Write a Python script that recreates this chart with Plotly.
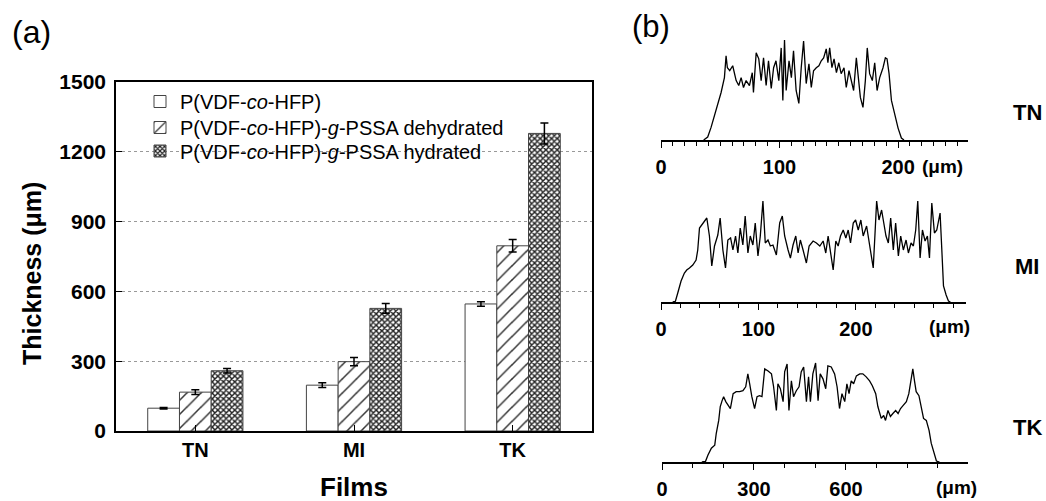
import plotly.graph_objects as go

# ---------------- Panel (a) data ----------------
films = ["TN", "MI", "TK"]
plain_vals = [98, 197, 546]
plain_err = [3, 10, 10]
dehyd_vals = [167, 298, 796]
dehyd_err = [10, 18, 27]
hyd_vals = [259, 527, 1279]
hyd_err = [10, 21, 45]
series_names = [
    "P(VDF-<i>co</i>-HFP)",
    "P(VDF-<i>co</i>-HFP)-<i>g</i>-PSSA dehydrated",
    "P(VDF-<i>co</i>-HFP)-<i>g</i>-PSSA hydrated",
]
y_ticks = [0, 300, 600, 900, 1200, 1500]

# ---------------- Panel (b) profile data (x in µm, height in arb. units) ----------------
tn_x = [36, 39.4, 42.3, 46.5, 50.7, 53.5, 54.9, 56, 58, 60.5, 63.4, 65.6, 67.6, 69.6, 71.8, 74.6, 77, 78,
        80.3, 82.5, 84.5, 86.5, 88.7, 90.7, 93, 95, 97, 99.4, 101.4, 102.8, 104.2, 105.6, 108, 110, 111.8,
        114, 116.3, 118.3, 120.3, 122.5, 124.8, 126.8, 128.7, 131, 133.2, 135.2, 137.2, 139.4, 140.8,
        142.3, 144.2, 146, 148, 150, 152, 154.4, 156.3, 158.6, 160.6, 162.5, 164.8, 166.2, 168.2, 170.4,
        172.4, 174, 176, 178.3, 180.3, 182.3, 184.5, 187.3, 189.3, 190.7, 192.4, 194.4, 195.8, 197.7,
        200, 202.8, 205]
tn_h = [0, 3, 13, 30, 48, 63, 85, 73, 70, 75, 60, 55, 63, 53, 60, 55, 68, 48,
        88, 82, 60, 83, 55, 80, 52, 73, 80, 60, 93, 40, 101, 50, 80, 63, 90,
        50, 37, 73, 100, 57, 77, 53, 70, 73, 75, 80, 83, 92, 78,
        93, 73, 82, 68, 78, 67, 73, 53, 70, 58, 50, 83, 63, 43, 33,
        60, 93, 67, 60, 78, 50, 63, 73, 83, 82, 67, 40, 33, 23,
        12, 2, 0]

mi_x = [12, 14.8, 17.2, 20.6, 24, 26.4, 29.2, 32.6, 36, 37.7, 39.5, 42.9, 47, 49.7, 52.1, 54.9, 58.3, 60.7,
        63.5, 66.2, 68.6, 71.4, 73.8, 76.5, 78.9, 81.3, 84, 86.4, 89.2, 91.6, 94.3, 96.7, 99.5, 101.9,
        104.6, 107, 109.8, 112.2, 114.9, 118.4, 121.8, 124.5, 126.9, 130.4, 132.8, 135.5, 138.3, 140.7,
        143, 145.8, 149.2, 152, 156.1, 159.5, 163, 166.4, 169.1, 171.5, 175, 176.7, 179.4, 181.8, 184.2,
        187, 189.7, 192.1, 194.5, 197.3, 199.7, 202.4, 205.1, 207.5, 211, 213.7, 216.1, 217.8, 219.5,
        221.3, 223.7, 226.4, 228.1, 230.9, 233.3, 235.7, 238.4, 240.8, 243.6, 246, 248.7, 251.5, 253.9,
        256.6, 259, 261.4, 263.5, 265.9, 268.3, 271, 273.4, 275.5, 277.9, 280.6, 283, 284.7, 286.4,
        288.2, 289.9, 292.6, 295, 297]
mi_h = [0, 0.7, 9, 21, 29, 32, 34, 37, 42, 52, 74, 79, 84, 66, 36, 56, 67, 84,
        52, 34, 62, 64, 52, 66, 49, 74, 57, 86, 49, 66, 57, 79, 46, 66,
        101, 59, 62, 56, 57, 47, 79, 86, 66, 52, 44, 57, 66, 49,
        62, 52, 39, 56, 61, 59, 56, 61, 49, 66, 44, 32, 61, 56, 66,
        72, 64, 72, 59, 79, 82, 72, 82, 66, 76, 59, 46, 34, 66,
        101, 82, 92, 82, 66, 59, 84, 52, 79, 46, 66, 52, 62, 49,
        59, 56, 72, 101, 44, 72, 61, 66, 44, 99, 69, 72, 82, 89,
        52, 16, 7, 1, 0]

tk_x = [130, 142, 150, 161, 172, 177, 185, 190, 196, 201, 208, 215, 223, 232, 242, 253, 264, 273, 280,
        286, 293, 302, 310, 318, 326, 335, 346, 357, 364, 373, 378, 386, 395, 400, 408, 414, 422, 429,
        438, 447, 454, 462, 471, 478, 484, 492, 501, 509, 516, 525, 534, 541, 552, 563, 571, 579, 587,
        596, 603, 610, 617, 625, 634, 645, 655, 666, 677, 686, 697, 704, 715, 723, 729, 737, 745, 753,
        762, 770, 778, 786, 797, 805, 813, 818, 824, 829, 838, 846, 853, 862, 871, 878, 887, 895, 905]
tk_h = [0, 0.7, 7, 14, 17, 29, 42, 56, 62, 66, 61, 57, 54, 69, 71, 71, 72, 76, 89,
        79, 66, 54, 66, 67, 66, 94, 92, 89, 76, 52, 79, 74, 61, 91, 99, 52, 82, 66,
        72, 76, 91, 96, 61, 86, 61, 89, 100, 62, 89, 84, 74, 97, 96, 89, 76, 54, 69,
        61, 79, 69, 82, 79, 87, 89, 89, 86, 82, 77, 69, 56, 44, 47, 42, 52, 46, 49,
        52, 49, 54, 57, 61, 69, 82, 94, 81, 71, 67, 56, 44, 42, 32, 19, 9, 1, 0]

profiles = [
    ("TN", tn_x, tn_h, [0, 259], 100, 10),
    ("MI", mi_x, mi_h, [0, 313], 100, 20),
    ("TK", tk_x, tk_h, [0, 998], 300, 100),
]

W, H = 1046, 501
FONT = "Arial, Liberation Sans, sans-serif"


def px_x(v):
    return v / W


def px_y(v):
    return 1 - v / H


fig = go.Figure()

bar_line = dict(color="#444", width=1)
err_style = dict(type="data", visible=True, color="black", thickness=1.5, width=4)
legend_ids = ["legend", "legend2", "legend3"]

fig.add_trace(go.Bar(
    x=films, y=plain_vals, name=series_names[0], legend=legend_ids[0],
    error_y=dict(array=plain_err, **err_style),
    marker=dict(color="white", line=bar_line),
    xaxis="x", yaxis="y",
))
fig.add_trace(go.Bar(
    x=films, y=dehyd_vals, name=series_names[1], legend=legend_ids[1],
    error_y=dict(array=dehyd_err, **err_style),
    marker=dict(color="white", line=bar_line,
                pattern=dict(shape="/", fgcolor="#333", bgcolor="white", size=10, solidity=0.15)),
    xaxis="x", yaxis="y",
))
fig.add_trace(go.Bar(
    x=films, y=hyd_vals, name=series_names[2], legend=legend_ids[2],
    error_y=dict(array=hyd_err, **err_style),
    marker=dict(color="white", line=bar_line,
                pattern=dict(shape="x", fgcolor="#222", bgcolor="white", size=4, solidity=0.6)),
    xaxis="x", yaxis="y",
))

legend_rows = [101.5, 127.5, 151]


def legend_box(row_y):
    return dict(x=px_x(140), y=px_y(row_y), xanchor="left", yanchor="middle",
                bgcolor="rgba(0,0,0,0)", borderwidth=0, font=dict(size=20, family=FONT, color="black"))


layout = dict(
    template="none",
    autosize=False,
    width=W, height=H,
    margin=dict(l=0, r=0, t=0, b=0, pad=0, autoexpand=False),
    paper_bgcolor="white", plot_bgcolor="white",
    font=dict(family=FONT, color="black"),
    barmode="group", bargap=0.4, bargroupgap=0,
    showlegend=True,
    legend=legend_box(legend_rows[0]),
    legend2=legend_box(legend_rows[1]),
    legend3=legend_box(legend_rows[2]),
    xaxis=dict(domain=[px_x(116), px_x(592)], anchor="y", range=[-0.5, 2.5], automargin=False,
               showline=True, linecolor="black", linewidth=1.5, mirror=True,
               ticks="inside", ticklen=6, tickcolor="black", tickwidth=1.2,
               tickfont=dict(size=20, weight="bold"), showgrid=False, zeroline=False,
               layer="above traces"),
    yaxis=dict(domain=[px_y(431), px_y(82)], anchor="x", range=[0, 1500], automargin=False,
               tickvals=y_ticks, showline=True, linecolor="black", linewidth=1.5, mirror=True,
               ticks="inside", ticklen=6, tickcolor="black", tickwidth=1.2,
               tickfont=dict(size=21, weight="bold"), ticklabelstandoff=4,
               showgrid=True, gridcolor="#999", griddash="dot", gridwidth=1, zeroline=False),
)

annotations = [
    dict(text="(a)", x=px_x(31), y=px_y(32), font=dict(size=32)),
    dict(text="(b)", x=px_x(651), y=px_y(27), font=dict(size=31)),
    dict(text="<b>Thickness (μm)</b>", x=px_x(32), y=px_y(274), textangle=-90, font=dict(size=25)),
    dict(text="<b>Films</b>", x=px_x(354), y=px_y(487), font=dict(size=26)),
]

panel_y = {"TN": (40, 140), "MI": (201, 302), "TK": (362, 462)}
panel_x = {"TN": (661, 968), "MI": (661, 966), "TK": (662, 968)}
label_pos = {"TN": 112, "MI": 266, "TK": 427}
unit_pos = {"TN": (942, 166), "MI": (949, 326), "TK": (956, 487)}

for i, (name, xs, hs, xr, major, minor) in enumerate(profiles):
    k = i + 2
    xa, ya = f"x{k}", f"y{k}"
    fig.add_trace(go.Scatter(x=xs, y=hs, mode="lines", line=dict(color="black", width=1.3),
                             showlegend=False, xaxis=xa, yaxis=ya, hoverinfo="skip"))
    top, bot = panel_y[name]
    l, r = panel_x[name]
    layout[f"xaxis{k}"] = dict(
        domain=[px_x(l), px_x(r)], anchor=ya, range=xr, automargin=False,
        showline=True, linecolor="black", linewidth=1.5,
        ticks="outside", ticklen=6, tickwidth=1.2, tickcolor="black",
        tickmode="array", tickvals=[v for v in range(0, xr[1] - major // 2, major)],
        tickfont=dict(size=20, weight="bold"), ticklabelstandoff=2,
        minor=dict(dtick=minor, ticks="outside", ticklen=4, tickcolor="black", tickwidth=1.2, showgrid=False),
        showgrid=False, zeroline=False,
    )
    layout[f"yaxis{k}"] = dict(domain=[px_y(bot), px_y(top)], anchor=xa, range=[0, 101],
                               visible=False, showgrid=False, zeroline=False, automargin=False)
    annotations.append(dict(text=f"<b>{name}</b>", x=px_x(1027), y=px_y(label_pos[name]), font=dict(size=22)))
    ux, uy = unit_pos[name]
    annotations.append(dict(text="<b>(μm)</b>", x=px_x(ux), y=px_y(uy), font=dict(size=19)))

for a in annotations:
    a.update(xref="paper", yref="paper", showarrow=False, xanchor="center", yanchor="middle")
    a["font"] = dict(family=FONT, color="black", **a["font"])

layout["annotations"] = annotations
fig.update_layout(**layout)

fig.write_html(
    "out.html",
    config={"responsive": False, "displayModeBar": False},
    post_script="document.body.style.margin='0px'; document.body.style.overflow='hidden';",
)
